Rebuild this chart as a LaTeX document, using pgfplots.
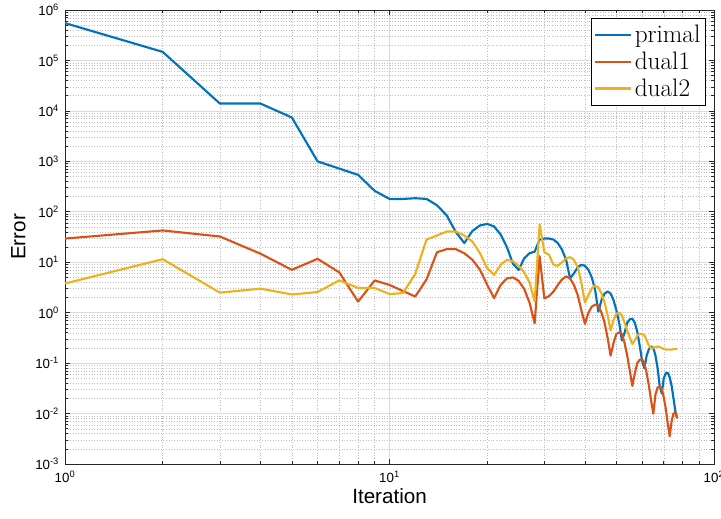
\documentclass[border=0pt]{standalone}
\usepackage{pgfplots}
\usepackage{pgfplotstable}
\usepackage{fontspec}
\pgfplotsset{compat=1.18}
\newfontfamily\arial{Liberation Sans}
\definecolor{mblue}{rgb}{0,0.447,0.741}
\definecolor{mred}{rgb}{0.85,0.325,0.098}
\definecolor{myellow}{rgb}{0.929,0.694,0.125}
\pgfplotstableread{
n p d1 d2
1 5.5e5 29.5 3.8
2 1.48e5 42.7 11.5
3 1.4e4 32.4 2.5
4 1.4e4 14.8 3.0
5 7.4e3 7.08 2.3
6 1.0e3 11.7 2.57
7 7.2e2 6.31 4.37
8 5.4e2 1.66 3.09
9 2.6e2 4.37 3.09
10 1.8e2 3.55 2.34
11 1.8e2 2.69 2.45
12 1.86e2 2.09 5.89
13 1.8e2 4.57 28.2
14 1.35e2 15.8 33.9
15 85 18.2 40.7
16 40 18.2 40.7
17 24 15.1 33.9
18 41.7 11.2 25.7
19 53.7 7.08 15.1
20 57.5 3.55 7.59
21 51.3 1.95 5.62
22 35.5 3.55 8.91
23 20 4.79 11.2
24 9.33 5.01 10.5
25 7.08 4.27 8.51
26 12.0 2.95 6.31
27 15.1 1.58 3.98
28 16.2 0.617 1.66
29 28.2 13.2 56.2
30 29.5 1.91 15.8
31 29.5 2.14 14.1
32 28.2 2.63 8.91
33 24.0 3.55 8.51
34 17.8 4.57 10.0
35 11.2 5.25 12.0
36 4.79 4.79 12.6
37 6.03 3.55 11.2
38 7.94 2.24 7.94
39 8.91 1.12 3.98
40 8.51 0.603 1.58
41 7.08 1.0 2.24
42 5.01 1.32 3.02
43 2.82 1.45 3.47
44 1.05 1.38 3.16
45 1.78 1.0 2.40
46 2.40 0.631 1.58
47 2.63 0.316 0.891
48 2.40 0.141 0.447
49 1.78 0.251 0.708
50 1.12 0.380 0.955
51 0.631 0.407 1.0
52 0.282 0.380 0.891
53 0.398 0.251 0.631
54 0.631 0.141 0.447
55 0.741 0.0708 0.316
56 0.759 0.0355 0.240
57 0.631 0.0631 0.282
58 0.417 0.1 0.355
59 0.224 0.117 0.380
60 0.112 0.120 0.380
61 0.0794 0.1 0.355
62 0.141 0.0631 0.282
63 0.191 0.0355 0.224
64 0.214 0.0178 0.195
65 0.200 0.0100 0.200
66 0.141 0.0240 0.209
67 0.0794 0.0331 0.214
68 0.0355 0.0347 0.209
69 0.0251 0.0316 0.200
70 0.0501 0.0209 0.191
71 0.0631 0.0126 0.186
72 0.0646 0.0063 0.186
73 0.0525 0.00355 0.186
74 0.0355 0.0071 0.186
75 0.0200 0.0100 0.19
76 0.0112 0.0105 0.19
77 0.0081 0.0081 0.19
}\datatable
\begin{document}
\begin{tikzpicture}
\useasboundingbox (-48.7bp,-40.4bp) rectangle (491.2bp,347.5bp);
\begin{axis}[
  at={(0,0)}, anchor=south west,
  width=486bp, height=340bp, scale only axis,
  xmode=log, ymode=log,
  xmin=1, xmax=100, ymin=1e-3, ymax=1e6,
  xtick={1,10,100},
  xticklabels={10\textsuperscript{0},10\textsuperscript{1},10\textsuperscript{2}},
  ytick={1e-3,1e-2,1e-1,1,10,100,1e3,1e4,1e5,1e6},
  yticklabels={10\textsuperscript{-3},10\textsuperscript{-2},10\textsuperscript{-1},10\textsuperscript{0},10\textsuperscript{1},10\textsuperscript{2},10\textsuperscript{3},10\textsuperscript{4},10\textsuperscript{5},10\textsuperscript{6}},
  minor xtick={2,3,4,5,6,7,8,9,20,30,40,50,60,70,80,90},
  minor ytick={2e-3,3e-3,4e-3,5e-3,6e-3,7e-3,8e-3,9e-3,
    2e-2,3e-2,4e-2,5e-2,6e-2,7e-2,8e-2,9e-2,
    0.2,0.3,0.4,0.5,0.6,0.7,0.8,0.9,
    2,3,4,5,6,7,8,9,
    20,30,40,50,60,70,80,90,
    200,300,400,500,600,700,800,900,
    2e3,3e3,4e3,5e3,6e3,7e3,8e3,9e3,
    2e4,3e4,4e4,5e4,6e4,7e4,8e4,9e4,
    2e5,3e5,4e5,5e5,6e5,7e5,8e5,9e5},
  grid=both,
  major grid style={black!14, line width=0.6pt},
  minor grid style={black!25, line width=0.4pt, dash pattern=on 0.5pt off 1.5pt},
  axis line style={black!85, line width=0.5pt},
  tick style={black!85, line width=0.5pt},
  major tick length=4bp, minor tick length=2.5bp,
  tick align=inside,
  xticklabel style={font=\arial\fontsize{10}{12}\selectfont, yshift=-2bp},
  yticklabel style={font=\arial\fontsize{10}{12}\selectfont, xshift=-1bp},
  xlabel={\arial Iteration}, ylabel={\arial Error},
  xlabel style={font=\fontsize{15.5}{18}\selectfont, at={(axis description cs:0.5,0)}, anchor=north, yshift=-15bp},
  ylabel style={font=\fontsize{15.5}{18}\selectfont, yshift=0.5bp},
  legend style={at={(1,1)}, anchor=north east, xshift=-6bp, yshift=-6bp,
    font=\fontsize{19}{20}\selectfont, draw=black, line width=0.5pt, fill=white,
    inner xsep=2bp, inner ysep=3bp, row sep=1.5bp},
  legend cell align=left,
  legend image code/.code={\draw[#1, line width=1.6pt] (0bp,0bp) -- (27bp,0bp);},
  every axis plot/.append style={line width=1.6pt, line join=round},
]
\addplot[mblue, no markers] table[x=n, y=p] {\datatable};
\addplot[mred, no markers] table[x=n, y=d1] {\datatable};
\addplot[myellow, no markers] table[x=n, y=d2] {\datatable};
\legend{primal, dual1, dual2}
\end{axis}
\end{tikzpicture}
\end{document}
